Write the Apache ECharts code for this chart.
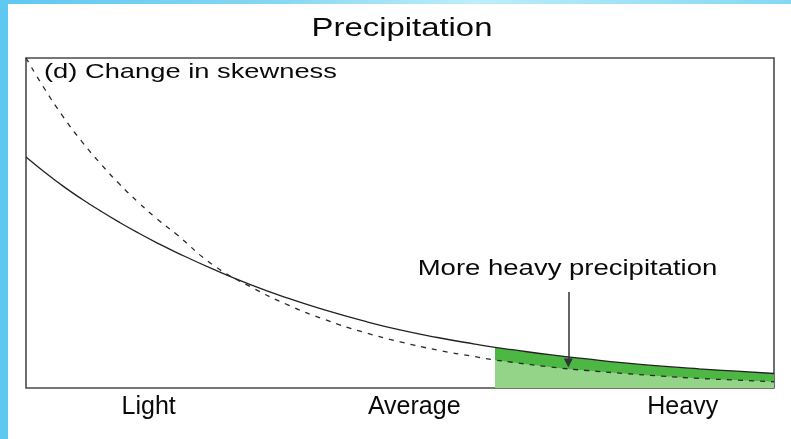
<!DOCTYPE html>
<html>
<head>
<meta charset="utf-8">
<script src="https://cdn.jsdelivr.net/npm/echarts@6/dist/echarts.min.js"></script>
<style>
  html, body { margin: 0; padding: 0; background: #ffffff; }
  #page { position: relative; width: 791px; height: 439px; overflow: hidden; background: #ffffff; }
  #edgeLeft { position: absolute; left: 0; top: 0; width: 8px; height: 439px; background: #5ec8f1; }
  #edgeTop { position: absolute; left: 0; top: 0; width: 791px; height: 4px;
    background: linear-gradient(to right, #5ec8f1 0%, #86d7f3 35%, #bdeefa 60%, #9fe2f7 80%, #84d8f4 100%); }
  #chart { position: absolute; left: 0; top: 0; width: 791px; height: 439px; }
</style>
</head>
<body>
<div id="page">
  <div id="edgeLeft"></div>
  <div id="edgeTop"></div>
  <div id="chart"></div>
</div>
<script>
// Precipitation intensity (relative units, light -> heavy)
const intensity = [0, 2.5, 5, 7.5, 10, 12.5, 15, 17.5, 20, 25, 30, 35, 40, 45, 50, 55, 60, 62.7, 65, 70, 75, 80, 85, 90, 95, 100];
// Probability of occurrence, current climate (solid)
const previousClimate = [70, 65.4, 61.1, 57.2, 53.6, 50.2, 47.0, 44.0, 41.2, 36.0, 31.3, 27.2, 23.6, 20.4, 17.6, 15.3, 13.3, 12.3, 11.6, 10.1, 8.8, 7.6, 6.6, 5.8, 5.1, 4.4];
// Probability of occurrence, future climate (dashed)
const futureClimate = [100, 90.6, 82.1, 74.6, 67.9, 61.8, 56.3, 51.3, 46.8, 37.3, 30.7, 25.2, 20.7, 17.0, 14.0, 11.5, 9.5, 8.5, 7.8, 6.4, 5.3, 4.4, 3.6, 2.9, 2.4, 1.9];
// Start of the heavy-precipitation tail
const heavyStart = 62.7;
// Category labels along the intensity axis
const tickLabels = ['Light', 'Average', 'Heavy'];
const tickValues = [16.4, 51.9, 87.8];
// Annotation arrow: [intensity, from, to]
const arrowX = 72.5, arrowFrom = 29.1, arrowTo = 7.6;

const pairs = (ys) => intensity.map((x, i) => [x, ys[i]]);
const tail = (ys) => intensity.map((x, i) => [x, ys[i]]).filter(p => p[0] >= heavyStart);

const chart = echarts.init(document.getElementById('chart'), null, { renderer: 'canvas' });
const font = '"Liberation Sans", Arial, Helvetica, sans-serif';

chart.setOption({
  animation: false,
  backgroundColor: 'transparent',
  grid: {
    left: 26, right: 17, top: 58, bottom: 51,
    show: true, borderColor: '#4a4a4a', borderWidth: 1.6, backgroundColor: 'transparent'
  },
  xAxis: {
    type: 'value', min: 0, max: 100,
    axisLine: { show: false }, axisTick: { show: false }, splitLine: { show: false },
    axisLabel: {
      customValues: tickValues,
      formatter: (v) => { const i = tickValues.indexOf(v); return i >= 0 ? tickLabels[i] : ''; },
      fontFamily: font, fontSize: 25, color: '#0a0a0a', margin: 7
    }
  },
  yAxis: {
    type: 'value', min: 0, max: 100,
    axisLine: { show: false }, axisTick: { show: false }, splitLine: { show: false }, axisLabel: { show: false }
  },
  series: [
    {
      name: 'tailCurrent', type: 'line', data: tail(previousClimate), smooth: true, showSymbol: false,
      lineStyle: { width: 0 }, areaStyle: { color: '#4cb843', opacity: 1 }, silent: true, z: 1
    },
    {
      name: 'tailFuture', type: 'line', data: tail(futureClimate), smooth: true, showSymbol: false,
      lineStyle: { width: 0 }, areaStyle: { color: '#93d489', opacity: 1 }, silent: true, z: 2
    },
    {
      name: 'current', type: 'line', data: pairs(previousClimate), smooth: true, showSymbol: false,
      lineStyle: { color: '#222', width: 1.3 }, silent: true, z: 3,
      markLine: {
        silent: true, symbol: ['none', 'triangle'], symbolSize: [9, 9],
        lineStyle: { color: '#333', width: 1.5, type: 'solid' },
        label: { show: false },
        data: [[{ coord: [arrowX, arrowFrom] }, { coord: [arrowX, arrowTo] }]]
      }
    },
    {
      name: 'future', type: 'line', data: pairs(futureClimate), smooth: true, showSymbol: false,
      lineStyle: { color: '#2a2a2a', width: 1.3, type: [5, 6] }, silent: true, z: 3
    }
  ],
  graphic: [
    {
      type: 'text', x: 402, y: 29, scaleX: 1.24, silent: true,
      style: { text: 'Precipitation', font: '26.5px ' + font, fill: '#0a0a0a', align: 'center', verticalAlign: 'middle' }
    },
    {
      type: 'text', x: 44, y: 72, scaleX: 1.3, silent: true,
      style: { text: '(d) Change in skewness', font: '21px ' + font, fill: '#0a0a0a', align: 'left', verticalAlign: 'middle' }
    },
    {
      type: 'text', x: 567.5, y: 269, scaleX: 1.25, silent: true,
      style: { text: 'More heavy precipitation', font: '22px ' + font, fill: '#0a0a0a', align: 'center', verticalAlign: 'middle' }
    }
  ]
});
</script>
</body>
</html>
